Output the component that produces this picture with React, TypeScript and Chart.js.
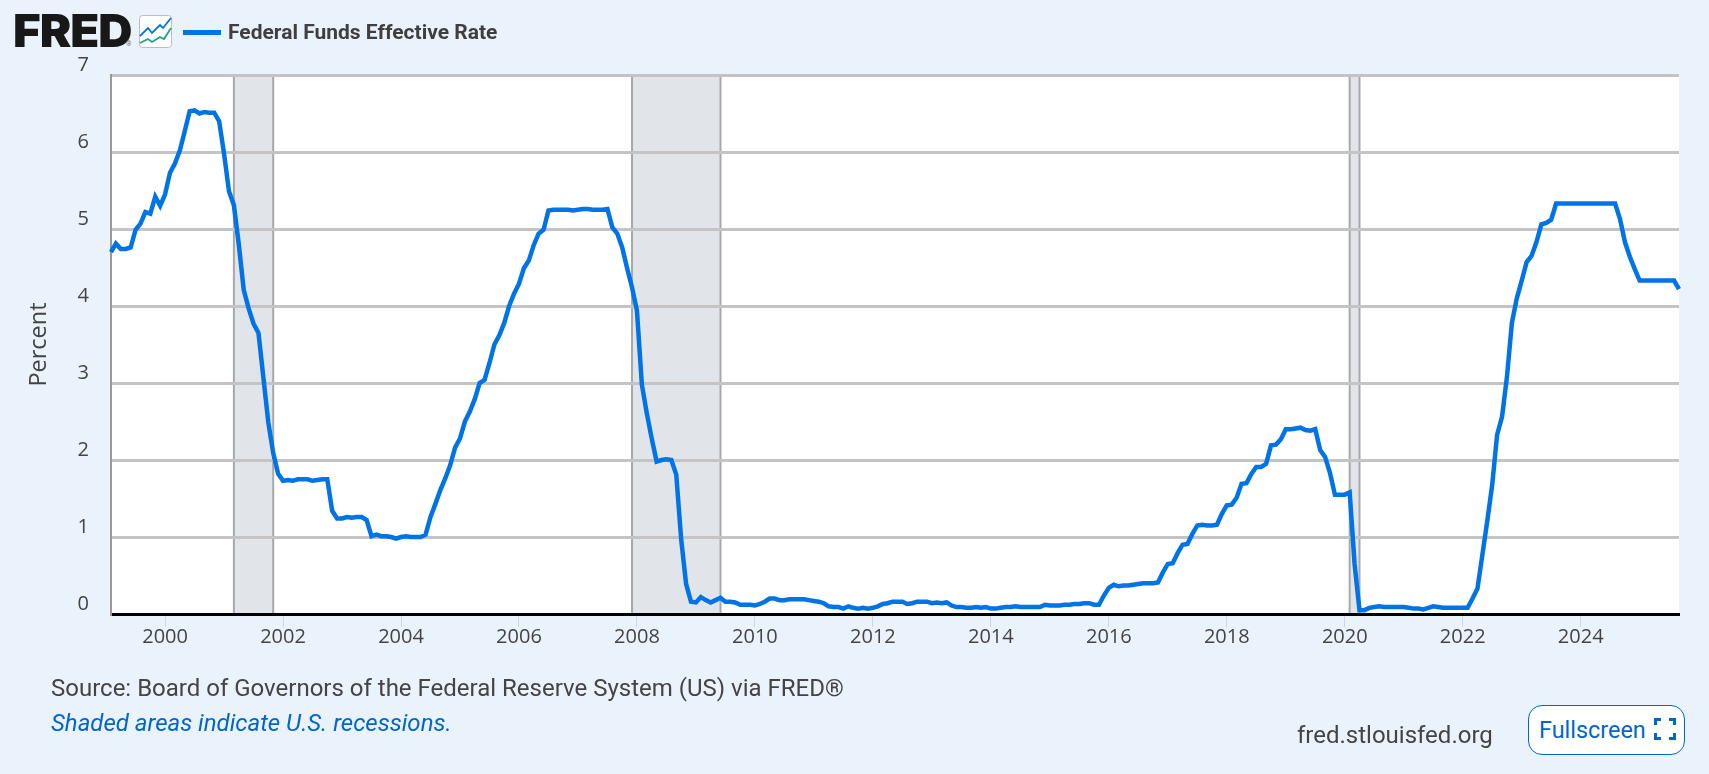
import React, { useEffect, useRef } from "react";
import { Chart, registerables } from "chart.js";

Chart.register(...registerables);

// monthly FEDFUNDS, Feb 1999 - Sep 2025
const rates = [
  4.7, 4.81, 4.74, 4.74, 4.76, 4.99, 5.07, 5.22, 5.2, 5.42, 5.3,
  5.45, 5.73, 5.85, 6.02, 6.27, 6.53, 6.54, 6.5, 6.52, 6.51, 6.51, 6.4,
  5.98, 5.49, 5.31, 4.8, 4.21, 3.97, 3.77, 3.65, 3.07, 2.49, 2.09, 1.82,
  1.73, 1.74, 1.73, 1.75, 1.75, 1.75, 1.73, 1.74, 1.75, 1.75, 1.34, 1.24,
  1.24, 1.26, 1.25, 1.26, 1.26, 1.22, 1.01, 1.03, 1.01, 1.01, 1.0, 0.98,
  1.0, 1.01, 1.0, 1.0, 1.0, 1.03, 1.26, 1.43, 1.61, 1.76, 1.93, 2.16,
  2.28, 2.5, 2.63, 2.79, 3.0, 3.04, 3.26, 3.5, 3.62, 3.78, 4.0, 4.16,
  4.29, 4.49, 4.59, 4.79, 4.94, 4.99, 5.24, 5.25, 5.25, 5.25, 5.25, 5.24,
  5.25, 5.26, 5.26, 5.25, 5.25, 5.25, 5.26, 5.02, 4.94, 4.76, 4.49, 4.24,
  3.94, 2.98, 2.61, 2.28, 1.98, 2.0, 2.01, 2.0, 1.81, 0.97, 0.39, 0.16,
  0.15, 0.22, 0.18, 0.15, 0.18, 0.21, 0.16, 0.16, 0.15, 0.12, 0.12, 0.12,
  0.11, 0.13, 0.16, 0.2, 0.2, 0.18, 0.18, 0.19, 0.19, 0.19, 0.19, 0.18,
  0.17, 0.16, 0.14, 0.1, 0.09, 0.09, 0.07, 0.1, 0.08, 0.07, 0.08, 0.07,
  0.08, 0.1, 0.13, 0.14, 0.16, 0.16, 0.16, 0.13, 0.14, 0.16, 0.16, 0.16,
  0.14, 0.15, 0.14, 0.15, 0.11, 0.09, 0.09, 0.08, 0.08, 0.09, 0.08, 0.09,
  0.07, 0.07, 0.08, 0.09, 0.09, 0.1, 0.09, 0.09, 0.09, 0.09, 0.09, 0.12,
  0.11, 0.11, 0.11, 0.12, 0.12, 0.13, 0.13, 0.14, 0.14, 0.12, 0.12, 0.24,
  0.34, 0.38, 0.36, 0.37, 0.37, 0.38, 0.39, 0.4, 0.4, 0.4, 0.41, 0.54,
  0.65, 0.66, 0.79, 0.9, 0.91, 1.04, 1.15, 1.16, 1.15, 1.15, 1.16, 1.3,
  1.41, 1.42, 1.51, 1.69, 1.7, 1.82, 1.91, 1.91, 1.95, 2.19, 2.2, 2.27,
  2.4, 2.4, 2.41, 2.42, 2.39, 2.38, 2.4, 2.13, 2.04, 1.83, 1.55, 1.55,
  1.55, 1.58, 0.65, 0.05, 0.05, 0.08, 0.09, 0.1, 0.09, 0.09, 0.09, 0.09,
  0.09, 0.08, 0.07, 0.07, 0.06, 0.08, 0.1, 0.09, 0.08, 0.08, 0.08, 0.08,
  0.08, 0.08, 0.2, 0.33, 0.77, 1.21, 1.68, 2.33, 2.56, 3.08, 3.78, 4.1,
  4.33, 4.57, 4.65, 4.83, 5.06, 5.08, 5.12, 5.33, 5.33, 5.33, 5.33, 5.33,
  5.33, 5.33, 5.33, 5.33, 5.33, 5.33, 5.33, 5.33, 5.13, 4.83, 4.64, 4.48,
  4.33, 4.33, 4.33, 4.33, 4.33, 4.33, 4.33, 4.33, 4.22,
];

const months: string[] = rates.map((_, i) => {
  const m = i + 1; // series starts in Feb 1999
  const year = 1999 + Math.floor(m / 12);
  return year + "-" + String((m % 12) + 1).padStart(2, "0");
});

const recessions = [
  ["2001-03", "2001-11"],
  ["2007-12", "2009-06"],
  ["2020-02", "2020-04"],
];

const yTicks = [0, 1, 2, 3, 4, 5, 6, 7];

const PAGE_BG = "#eaf2fc";
const BLUE = "#0073e6";
const LINK = "#0066cc";
const TEXT = "#444444";

const backdrop = {
  id: "backdrop",
  beforeDraw(chart: any) {
    const { ctx, chartArea: a, scales } = chart;
    ctx.save();
    ctx.fillStyle = "#ffffff";
    ctx.fillRect(a.left, a.top, a.right - a.left, a.bottom - a.top);
    recessions.forEach(([from, to]) => {
      const x0 = scales.x.getPixelForValue(months.indexOf(from));
      const x1 = scales.x.getPixelForValue(months.indexOf(to));
      ctx.fillStyle = "#e1e5ea";
      ctx.fillRect(x0, a.top, x1 - x0, a.bottom - a.top);
      ctx.fillStyle = "#a8a8a8";
      ctx.fillRect(x0 - 1, a.top, 2, a.bottom - a.top);
      ctx.fillRect(x1 - 1, a.top, 2, a.bottom - a.top);
    });
    ctx.restore();
  },
};

const FredChart = () => {
  const canvasRef = useRef<HTMLCanvasElement>(null);

  useEffect(() => {
    if (!canvasRef.current) return;
    const chart = new Chart(canvasRef.current, {
      type: "line",
      data: {
        labels: months,
        datasets: [
          {
            label: "Federal Funds Effective Rate",
            data: rates,
            borderColor: BLUE,
            borderWidth: 4.5,
            pointRadius: 0,
            tension: 0,
            borderJoinStyle: "miter",
          },
        ],
      },
      plugins: [backdrop],
      options: {
        animation: false,
        responsive: false,
        devicePixelRatio: 1,
        layout: { padding: { top: 75, right: 30, left: 0, bottom: 0 } },
        plugins: { legend: { display: false }, tooltip: { enabled: false } },
        scales: {
          x: {
            type: "category",
            offset: false,
            afterBuildTicks(scale: any) {
              scale.ticks = scale.ticks.filter((t: any) => {
                const [y, m] = months[t.value].split("-");
                return m === "01" && Number(y) % 2 === 0;
              });
            },
            afterFit(scale: any) {
              scale.height = 160;
            },
            grid: { drawOnChartArea: false, tickLength: 13, tickColor: "#ccd6eb", tickWidth: 1 },
            border: { color: "#000000", width: 3 },
            ticks: {
              autoSkip: false,
              maxRotation: 0,
              padding: -2,
              color: TEXT,
              font: { family: "'Open Sans'", size: 20 },
              callback(value: any) {
                return months[value].slice(0, 4);
              },
            },
          },
          y: {
            min: 0,
            max: 7,
            afterBuildTicks(scale: any) {
              scale.ticks = yTicks.map((value) => ({ value }));
            },
            afterFit(scale: any) {
              scale.width = 111;
            },
            grid: { color: "#c4c4c4", lineWidth: 3, drawTicks: false },
            border: { color: "#999999", width: 2 },
            title: {
              display: true,
              text: "Percent",
              color: TEXT,
              font: { family: "'Open Sans'", size: 23.5 },
              padding: { top: 25, bottom: 0 },
            },
            ticks: {
              color: TEXT,
              padding: 22,
              labelOffset: -10,
              font: { family: "'Open Sans'", size: 20 },
            },
          },
        },
      },
    });
    return () => chart.destroy();
  }, []);

  return <canvas ref={canvasRef} width={1709} height={774} style={{ position: "absolute", left: 0, top: 0 }} />;
};

const App = () => {
  const label = (left: number, top: number, extra: React.CSSProperties) => (
    { position: "absolute", left, top, whiteSpace: "nowrap", fontFamily: "Roboto", ...extra } as React.CSSProperties
  );

  return (
    <div style={{ position: "absolute", left: 0, top: 0, width: 1709, height: 774, overflow: "hidden", background: PAGE_BG }}>
      <FredChart />

      <div
        style={label(13, 3, {
          fontFamily: "Inter",
          fontWeight: 900,
          fontSize: 46,
          letterSpacing: -1,
          lineHeight: "54px",
          color: "#181818",
          transform: "scaleX(1.03)",
          transformOrigin: "left center",
        })}
      >
        FRED
      </div>
      <div style={label(126, 40, { fontSize: 7, color: "#777777", lineHeight: "9px" })}>®</div>
      <svg width={33} height={33} viewBox="0 0 33 33" style={{ position: "absolute", left: 139, top: 15 }}>
        <rect x={0.5} y={0.5} width={32} height={32} rx={3} fill="#ffffff" stroke="#bdbdbd" />
        <polyline points="1,21 9,13 13,18 21,10 24,13 32,3" fill="none" stroke={BLUE} strokeWidth={1.8} />
        <polyline points="1,28 9,24 13,27 21,22 25,24 32,13" fill="none" stroke="#1fa38a" strokeWidth={1.8} />
      </svg>

      <div style={{ position: "absolute", left: 183, top: 30, width: 38, height: 5, background: BLUE }} />
      <div style={label(228, 20, { fontWeight: 700, fontSize: 21, lineHeight: "24px", color: "#3f3f3f" })}>
        Federal Funds Effective Rate
      </div>

      <div style={label(51, 673, { fontSize: 24, lineHeight: "30px", color: TEXT })}>
        Source: Board of Governors of the Federal Reserve System (US) via FRED®
      </div>
      <div style={label(51, 708, { fontSize: 24, lineHeight: "30px", fontStyle: "italic", color: LINK })}>
        Shaded areas indicate U.S. recessions.
      </div>
      <div style={label(1297, 720, { fontSize: 24, lineHeight: "30px", color: TEXT })}>fred.stlouisfed.org</div>

      <div
        style={{
          position: "absolute",
          left: 1528,
          top: 705,
          width: 155,
          height: 48,
          background: "#ffffff",
          border: "1px solid " + LINK,
          borderRadius: 14,
        }}
      />
      <div style={label(1539, 715, { fontSize: 23.4, lineHeight: "30px", color: LINK })}>Fullscreen</div>
      <svg width={22} height={22} viewBox="0 0 22 22" style={{ position: "absolute", left: 1654, top: 718 }}>
        <path d="M1.5 7V1.5H7M15 1.5H20.5V7M20.5 15V20.5H15M7 20.5H1.5V15" fill="none" stroke={LINK} strokeWidth={3} />
      </svg>
    </div>
  );
};

export default App;
